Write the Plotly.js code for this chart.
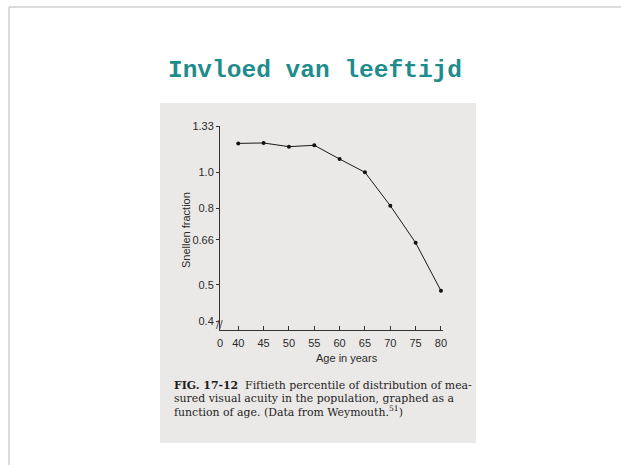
<!DOCTYPE html>
<html>
<head>
<meta charset="utf-8">
<script src="https://cdn.plot.ly/plotly-3.0.1.min.js"></script>
<style>html,body{margin:0;padding:0;background:#fff;}#chart{width:621px;height:465px;}</style>
</head>
<body>
<div id="chart"></div>
<script>
// Data
var ages = [40, 45, 50, 55, 60, 65, 70, 75, 80];
var snellen = [1.195, 1.198, 1.171, 1.181, 1.085, 1.0, 0.814, 0.648, 0.482];

var xTickVals = [36.4, 40, 45, 50, 55, 60, 65, 70, 75, 80];
var xTickText = ['0', '40', '45', '50', '55', '60', '65', '70', '75', '80'];
var yTickVals = [1.33, 1.0, 0.8, 0.66, 0.5, 0.4];
var yTickText = ['1.33', '1.0', '0.8', '0.66', '0.5', '0.4'];

var W = 621, H = 465;
function px(x) { return x / W; }
function py(y) { return 1 - y / H; }

var tickFont = {family: 'Liberation Sans, Arial, sans-serif', size: 11, color: '#2a2a2a'};
var labFont = {family: 'Liberation Sans, Arial, sans-serif', size: 11, color: '#2a2a2a'};
var capFont = {family: 'DejaVu Serif, serif', size: 10.9, color: '#1e1e1e'};

var trace = {
  x: ages, y: snellen, type: 'scatter', mode: 'lines+markers',
  line: {color: '#1a1a1a', width: 1},
  marker: {color: '#111', size: 4},
  hoverinfo: 'x+y', showlegend: false
};

var layout = {
  width: W, height: H,
  margin: {l: 0, r: 0, t: 0, b: 0},
  paper_bgcolor: '#ffffff',
  plot_bgcolor: 'rgba(0,0,0,0)',
  title: {
    text: '<b>Invloed van leeftijd</b>',
    font: {family: 'Liberation Mono, Courier New, monospace', size: 24.5, color: '#1f8c8c'},
    x: px(315), xanchor: 'center', y: py(68), yanchor: 'middle', xref: 'paper', yref: 'paper'
  },
  xaxis: {
    domain: [px(220), px(443)],
    range: [36.4, 80.4],
    tickmode: 'array', tickvals: xTickVals, ticktext: xTickText,
    ticks: 'inside', ticklen: 4, tickcolor: '#333', tickwidth: 1,
    ticklabelstandoff: 3,
    showline: true, linecolor: '#333', linewidth: 1,
    showgrid: false, zeroline: false,
    tickfont: tickFont
  },
  yaxis: {
    domain: [py(330), py(126)],
    type: 'log',
    range: [Math.log10(0.3786), Math.log10(1.33)],
    tickmode: 'array', tickvals: yTickVals, ticktext: yTickText,
    ticks: 'outside', ticklen: 3, tickcolor: '#333', tickwidth: 1,
    showline: true, linecolor: '#333', linewidth: 1,
    showgrid: false, zeroline: false,
    tickfont: tickFont
  },
  shapes: [
    {type: 'rect', xref: 'paper', yref: 'paper', x0: px(160), x1: px(476), y0: py(443), y1: py(103),
     fillcolor: '#ebe9e8', line: {width: 0}, layer: 'below'},
    {type: 'line', xref: 'paper', yref: 'paper', x0: px(9), x1: px(9), y0: py(7), y1: py(470),
     line: {color: '#cfcfcf', width: 1.5}},
    {type: 'line', xref: 'paper', yref: 'paper', x0: px(9), x1: px(630), y0: py(7), y1: py(7),
     line: {color: '#cfcfcf', width: 1.5}}
  ],
  annotations: [
    {text: 'Snellen fraction', xref: 'paper', yref: 'paper', x: px(186), y: py(230), xanchor: 'center', yanchor: 'middle',
     textangle: -90, showarrow: false, font: labFont},
    {text: 'Age in years', xref: 'paper', yref: 'paper', x: px(347), y: py(358), xanchor: 'center', yanchor: 'middle',
     showarrow: false, font: labFont},
    {text: '//', xref: 'paper', yref: 'paper', x: px(219), y: py(324), xanchor: 'center', yanchor: 'middle',
     showarrow: false, font: {family: 'DejaVu Sans, sans-serif', size: 10, color: '#333'}},
    {text: '<b>FIG. 17-12</b>  Fiftieth percentile of distribution of mea-', xref: 'paper', yref: 'paper',
     x: px(172), y: py(385), xanchor: 'left', yanchor: 'middle', showarrow: false, font: capFont},
    {text: 'sured visual acuity in the population, graphed as a', xref: 'paper', yref: 'paper',
     x: px(172), y: py(398), xanchor: 'left', yanchor: 'middle', showarrow: false, font: capFont},
    {text: 'function of age. (Data from Weymouth.<sup>51</sup>)', xref: 'paper', yref: 'paper',
     x: px(172), y: py(411), xanchor: 'left', yanchor: 'middle', showarrow: false, font: capFont}
  ]
};

Plotly.newPlot('chart', [trace], layout, {displayModeBar: false, staticPlot: true});
</script>
</body>
</html>
